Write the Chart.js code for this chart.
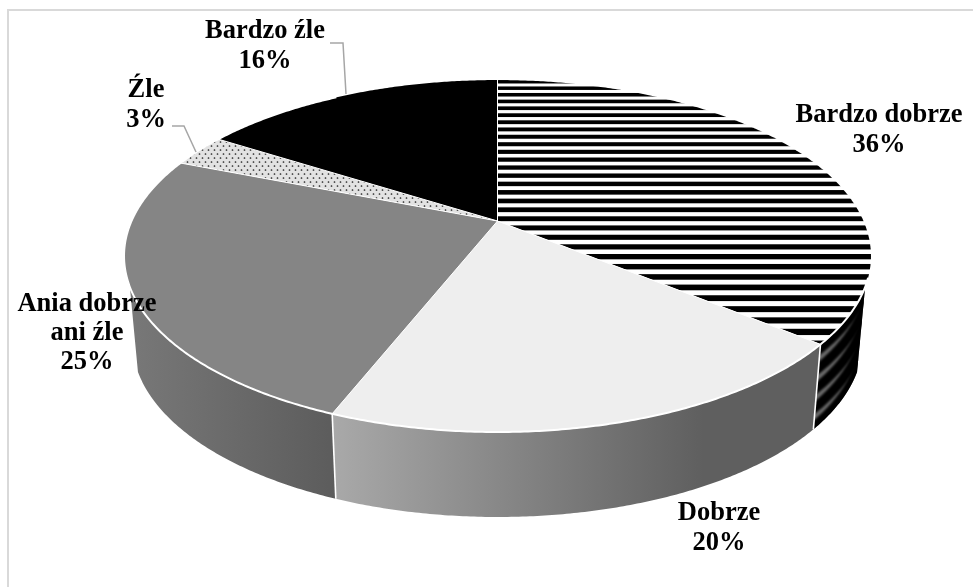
<!DOCTYPE html>
<html><head><meta charset="utf-8">
<style>html,body{margin:0;padding:0;background:#fff}canvas{display:block}</style>
<script src="https://cdn.jsdelivr.net/npm/chart.js@4"></script>
</head><body><canvas id="c" width="973" height="587"></canvas>
<script>
const categories = ["Bardzo dobrze","Dobrze","Ania dobrze ani źle","Źle","Bardzo źle"];
const values = [36,20,25,3,16];
const topColors = ["#ffffff","#eeeeee","#858585","#e2e2e2","#000000"];
const sideFrom = ["#6a6a6a","#a9a9a9","#787878","#666666","#333333"];
const sideTo = ["#6a6a6a","#5f5f5f","#5c5c5c","#666666","#333333"];
const labelLines = [["Bardzo dobrze","36%"],["Dobrze","20%"],["Ania dobrze","ani źle","25%"],["Źle","3%"],["Bardzo źle","16%"]];
const labelCentres = [[879,115],[719,513],[87,304],[146,90],[265,31]];
const leaders = [[[330,43],[343,43],[346,94]],[[172,126],[184,126],[196,152]]];

const P = {cx:497.5, cy:221, a:366, b:169, k:0.199, depth:85, shrink:0.978};
function proj(ang, t){
  const u=Math.cos(ang), v=Math.sin(ang), w=1-P.k*v;
  const x=P.a*u/w, y=P.b*v/w;
  return [P.cx+x*(1-(1-P.shrink)*t), P.cy+y+P.depth*t];
}
function planePt(u,v){const w=1-P.k*v;return [P.cx+P.a*u/w,P.cy+P.b*v/w];}
function arcPts(s,e,t){const n=Math.max(4,Math.ceil(Math.abs(e-s)*120)),r=[];
  for(let i=0;i<=n;i++)r.push(proj(s+(e-s)*i/n,t));return r;}
function path(ctx,pts,close){ctx.beginPath();pts.forEach((p,i)=>i?ctx.lineTo(p[0],p[1]):ctx.moveTo(p[0],p[1]));if(close)ctx.closePath();}

function dotPattern(ctx){
  const c=document.createElement('canvas');c.width=6;c.height=8;
  const g=c.getContext('2d');g.fillStyle=topColors[3];g.fillRect(0,0,6,8);
  g.fillStyle='#222222';
  g.beginPath();g.arc(1.5,2,0.85,0,7);g.fill();
  g.beginPath();g.arc(4.5,6,0.85,0,7);g.fill();
  return ctx.createPattern(c,'repeat');
}
const pie3d={
  id:'pie3d',
  beforeDatasetDraw(chart){
    const ctx=chart.ctx, arcs=chart.getDatasetMeta(0).data;
    const HALF=Math.PI/2, lo=HALF-1.2, hi=HALF+1.2;
    ctx.save();
    const order=arcs.map((a,i)=>i).sort((i,j)=>{
      const d=x=>Math.abs((arcs[x].startAngle+arcs[x].endAngle)/2-HALF);return d(j)-d(i);});
    order.forEach(i=>{
      const s=Math.max(arcs[i].startAngle,lo), e=Math.min(arcs[i].endAngle,hi);
      if(e<=s)return;
      const outer=arcPts(s,e,0).concat(arcPts(s,e,1).reverse());
      path(ctx,outer,true);
      const xs=outer.map(p=>p[0]);
      const g=ctx.createLinearGradient(Math.min(...xs),0,Math.max(...xs),0);
      g.addColorStop(0,sideFrom[i]);
      g.addColorStop(i===1?0.76:1,sideTo[i]);
      g.addColorStop(1,sideTo[i]);
      ctx.fillStyle=g;ctx.fill();
      if(i===0){
        ctx.save();ctx.clip();
        ctx.strokeStyle='#000';ctx.lineWidth=9.5;ctx.filter='blur(0.9px)';
        for(let t=0.05;t<1.1;t+=0.23){path(ctx,arcPts(s-0.05,e+0.05,t),false);ctx.stroke();}
        ctx.restore();
      }
    });
    ctx.strokeStyle='#fff';ctx.lineWidth=1.6;
    arcs.forEach(a=>{
      if(a.endAngle>lo&&a.endAngle<hi){path(ctx,[proj(a.endAngle,0),proj(a.endAngle,1)]);ctx.stroke();}
    });
    const apex=[P.cx,P.cy];
    arcs.forEach((a,i)=>{
      const rim=arcPts(a.startAngle,a.endAngle,0);
      path(ctx,[apex].concat(rim),true);
      if(i===3)ctx.fillStyle=dotPattern(ctx);else ctx.fillStyle=topColors[i];
      ctx.fill();
      if(i===0){
        ctx.save();ctx.clip();ctx.fillStyle='#000';
        for(let v=-1;v<1;v+=0.054){
          const p=planePt(0,v),q=planePt(0,v+0.029);
          ctx.fillRect(0,p[1],973,q[1]-p[1]);
        }
        ctx.restore();
      }
    });
    arcs.forEach(a=>{
      ctx.strokeStyle='#fff';ctx.lineWidth=1;
      path(ctx,[apex,proj(a.startAngle,0)]);ctx.stroke();
    });
    ctx.lineWidth=2;
    path(ctx,arcPts(lo-0.05,hi+1.4,0));ctx.stroke();
    ctx.restore();
    return false;
  },
  afterDraw(chart){
    const ctx=chart.ctx;
    ctx.save();
    ctx.strokeStyle='#d9d9d9';ctx.lineWidth=2;
    ctx.beginPath();ctx.moveTo(8,587);ctx.lineTo(8,10);ctx.lineTo(973,10);ctx.stroke();
    ctx.strokeStyle='#a6a6a6';ctx.lineWidth=1.5;
    leaders.forEach(l=>{path(ctx,l);ctx.stroke();});
    ctx.fillStyle='#000';ctx.textAlign='center';ctx.textBaseline='middle';
    ctx.font='bold 26.5px "Liberation Serif"';
    labelLines.forEach((ls,i)=>ls.forEach((t,j)=>
      ctx.fillText(t,labelCentres[i][0],labelCentres[i][1]+j*(ls.length>2?29:30.5))));
    ctx.restore();
  }
};
new Chart(document.getElementById('c'),{
  type:'pie',
  data:{labels:categories,datasets:[{data:values,backgroundColor:topColors,borderWidth:0}]},
  options:{responsive:false,animation:false,events:[],
    plugins:{legend:{display:false},tooltip:{enabled:false}}},
  plugins:[pie3d]
});
</script></body></html>
